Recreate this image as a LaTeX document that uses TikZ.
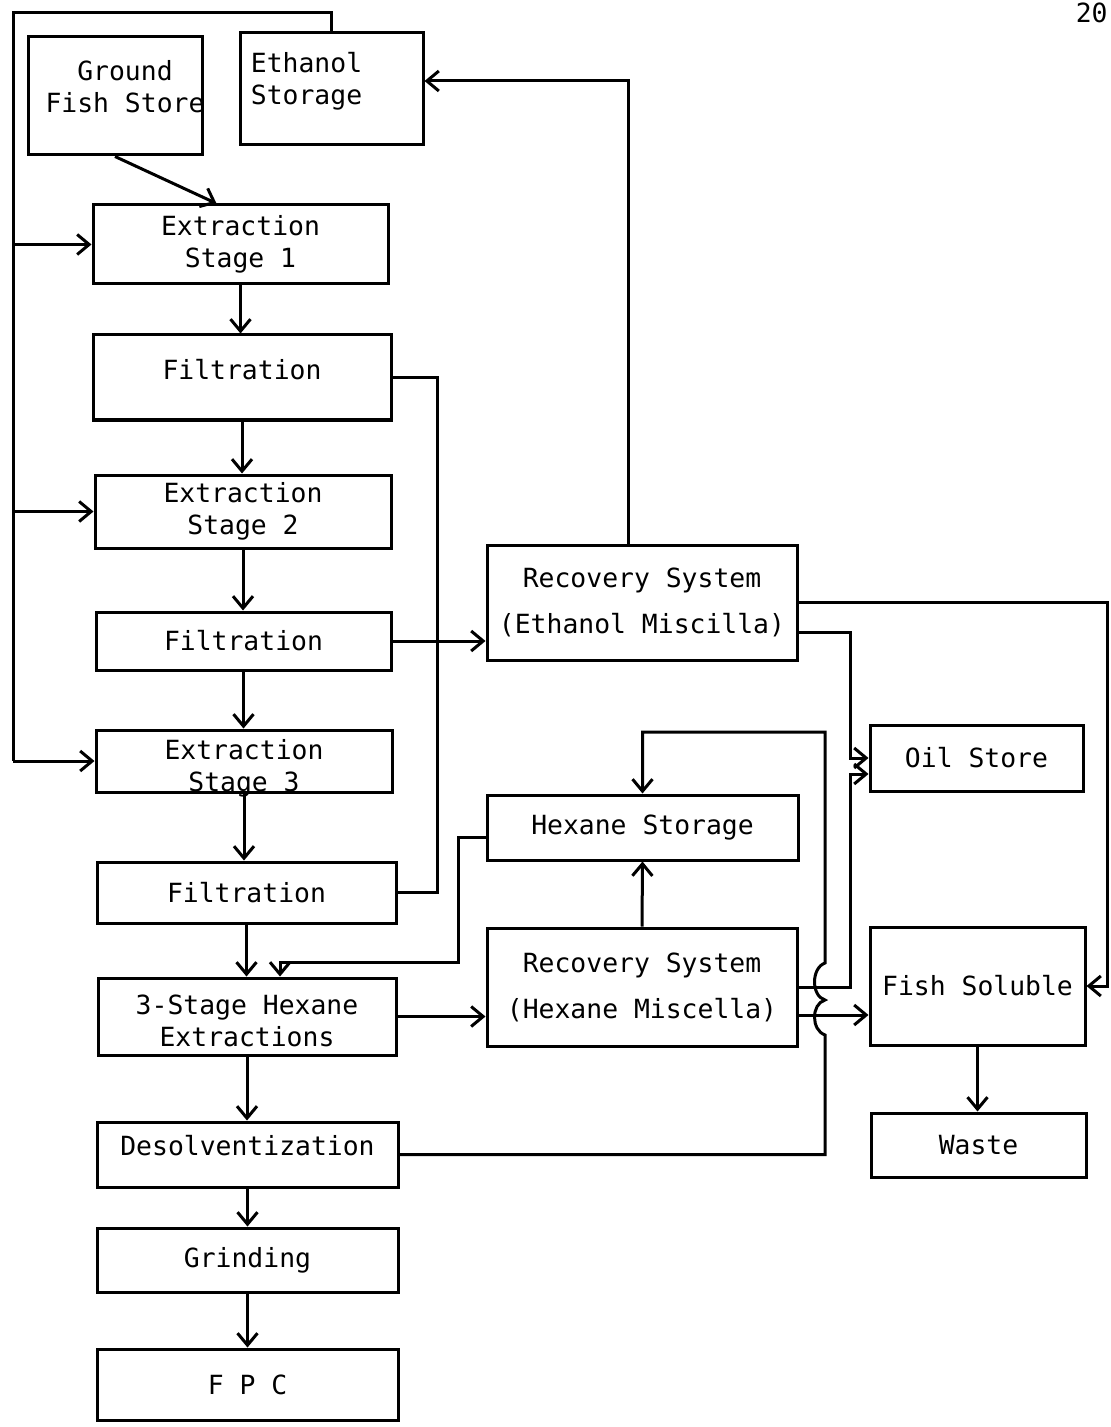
\documentclass[tikz,border=0pt]{standalone}
\usepackage{fontspec}
\setmainfont{DejaVu Sans Mono}
\usetikzlibrary{arrows.meta}
\tikzset{
	box/.style={draw, line width=1.5pt, inner sep=0pt, align=center, font=\fontsize{13.2}{16}\selectfont},
	boxsize/.style 2 args={minimum width=#1*0.5pt, minimum height=#2*0.5pt},
	txt/.style={align=center, inner sep=0pt, font=\fontsize{13.2}{16}\selectfont},
	pipe/.style={line width=1.5pt},
	flow/.style={pipe, -{Straight Barb[length=6pt, width=10pt]}}
}
\begin{document}
\begin{tikzpicture}[x=0.5pt, y=-0.5pt]
		\useasboundingbox (0,0) rectangle (1111,1427);
		\node[txt, anchor=north east] (pgno) at (1108,3) {20};
		% stores at the top
		\node[box, boxsize={174}{118}, label={[txt, xshift=5pt, yshift=4.75pt]center:{Ground\\Fish Store}}] (gfs) at (115,96) {};
		\node[box, boxsize={183}{112}, label={[txt, align=left, anchor=west, xshift=6pt, yshift=4pt]west:{Ethanol\\Storage}}] (eth) at (331.5,89) {};
		% main line
		\foreach \name/\cx/\cy/\w/\h/\dy/\lbl in {
			ext1/240.5/244.5/295/79/0/{Extraction\\Stage 1},
			filt1/242/377.5/298/85/3.75/{Filtration},
			ext2/243/511.5/296/73/0/{Extraction\\Stage 2},
			filt2/243.5/641/295/58/0/{Filtration},
			ext3/244/761/296/62/-3.75/{Extraction\\Stage 3},
			filt3/246.5/892.5/299/61/0/{Filtration},
			hexext/247/1016.5/298/77/-2.25/{3-Stage Hexane\\Extractions},
			desolv/247.5/1154.5/301/65/4.25/{Desolventization},
			grind/247.5/1260/301/64/0/{Grinding},
			fpc/247.5/1384.5/301/71/0/{F P C}}{
				\node[box, boxsize={\w}{\h}, label={[txt, yshift=\dy pt]center:{\lbl}}] (\name) at (\cx,\cy) {};
			}
		\foreach \a/\b in {ext1/filt1, filt1/ext2, ext2/filt2, filt2/ext3, ext3/filt3, filt3/hexext, hexext/desolv, desolv/grind, grind/fpc}{
			\draw[flow] (\a.south) -- (\a.south |- \b.north);
		}
		% recovery side
		\node[box, boxsize={310}{115}] (recEth) at (642,602.5) {Recovery System\\[7pt](Ethanol Miscilla)};
		\node[box, boxsize={311}{65}] (hexst) at (642.5,827.5) {Hexane Storage};
		\node[box, boxsize={310}{118}] (recHex) at (642,987) {Recovery System\\[7pt](Hexane Miscella)};
		\node[box, boxsize={213}{66}] (oil) at (976.5,758) {Oil Store};
		\node[box, boxsize={215}{118}] (fishsol) at (977.5,986) {Fish Soluble};
		\node[box, boxsize={215}{64}] (waste) at (978.5,1145) {Waste};
		% ethanol feed
		\coordinate (loop) at (13,13);
		\draw[pipe] (eth.north) |- (loop) -- (loop |- ext3.west);
		\foreach \n in {ext1, ext2, ext3}{
			\draw[flow] (loop |- \n.west) -- (\n.west);
		}
		\draw[flow] (gfs.south) -- ([xshift=-12pt]ext1.north);
		% miscella
		\coordinate (coll) at (437,0);
		\draw[pipe] (filt1.east) -- (filt1.east -| coll) -- (filt3.east -| coll) -- (filt3.east);
		\draw[flow] (filt2.east) -- (filt2.east -| recEth.west);
		\draw[flow] ([xshift=-7pt]recEth.north) |- ([yshift=4pt]eth.east);
		\coordinate (edge) at (1107,0);
		\draw[flow] (recEth.east) -| (edge |- fishsol.east) -- (fishsol.east);
		\coordinate (oilbus) at (850,0);
		\coordinate (ethout2) at ([yshift=-15pt]recEth.east);
		\coordinate (oilin2) at ([yshift=-8pt]oil.west);
		\draw[flow] (ethout2) -| (oilbus |- oil.west) -- (oil.west);
		\draw[flow] (recHex.east) -| (oilbus |- oilin2) -- (oilin2);
		\coordinate (hexout2) at ([yshift=-14pt]recHex.east);
		\draw[flow] (hexout2) -- (hexout2 -| fishsol.west);
		\draw[flow] (fishsol.south) -- (fishsol.south |- waste.north);
		% hexane circuit
		\draw[flow] (hexext.east) -- (hexext.east -| recHex.west);
		\draw[flow] (recHex.north) -- (hexst.south);
		\coordinate (hexin) at ([xshift=16.5pt]hexext.north);
		\draw[flow] ([yshift=-5pt]hexst.west) -| (458,962) -| (hexin);
		\coordinate (ret) at (825,0);
		\draw[flow] (desolv.east) -- (desolv.east -| ret) -- (825,1035)
			.. controls (811,1030) and (811,1004) .. (825,1000)
			.. controls (811,996) and (811,968) .. (825,963)
			-- (825,732) -| (hexst.north);
	\end{tikzpicture}
\end{document}
